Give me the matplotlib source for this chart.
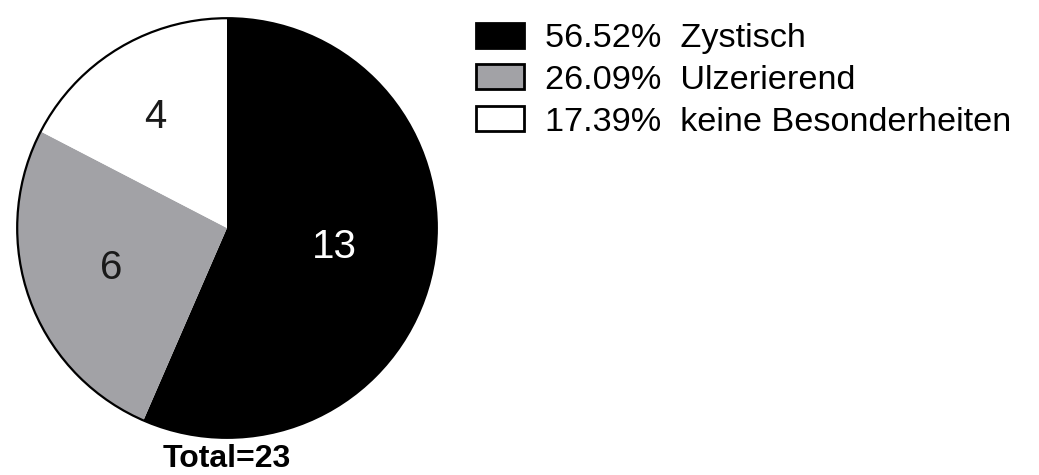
import matplotlib
matplotlib.use('Agg')
import matplotlib.pyplot as plt
from matplotlib.patches import Circle, Patch

plt.rcParams['font.family'] = ['Liberation Sans', 'DejaVu Sans']

categories = ['Zystisch', 'Ulzerierend', 'keine Besonderheiten']
counts = [13, 6, 4]
colors = ['#000000', '#a2a2a6', '#ffffff']
label_colors = ['white', '#1a1a1a', '#1a1a1a']
# label offsets from the pie centre (fraction of radius)
label_pos = [(0.51, -0.09), (-0.55, -0.19), (-0.34, 0.53)]

total = sum(counts)
shares = [c / total * 100 for c in counts]

fig = plt.figure(figsize=(10.39, 4.75), dpi=100)
W, H = 1039, 475
cx, cy, r = 227, 228, 214
ax = fig.add_axes([(cx - r) / W, (H - cy - r) / H, 2 * r / W, 2 * r / H])

wedges, _ = ax.pie(counts, colors=colors, startangle=90, counterclock=False,
                   radius=1, wedgeprops=dict(edgecolor='none', linewidth=0))
ax.add_patch(Circle((0, 0), 1, fill=False, edgecolor='black', linewidth=1.6))
ax.set_xlim(-1.02, 1.02)
ax.set_ylim(-1.02, 1.02)
ax.set_aspect('equal')
ax.axis('off')

for n, (x, y), c in zip(counts, label_pos, label_colors):
    ax.text(x, y, str(n), ha='center', va='center', fontsize=29, color=c)

fig.text(cx / W, (H - 467) / H, f'Total={total}', ha='center', va='baseline',
         fontsize=23, fontweight='bold')

handles = [Patch(facecolor=col, edgecolor='black', linewidth=2) for col in colors]
labels = [f'{s:.2f}%  {cat}' for s, cat in zip(shares, categories)]
fig.legend(handles, labels, loc='upper left', bbox_to_anchor=(462 / W, 1 - 9 / H),
           frameon=False, fontsize=24.7, handlelength=1.4, handleheight=0.74,
           handletextpad=0.62, labelspacing=0.3, borderaxespad=0)

fig.savefig('out.png', dpi=100)
